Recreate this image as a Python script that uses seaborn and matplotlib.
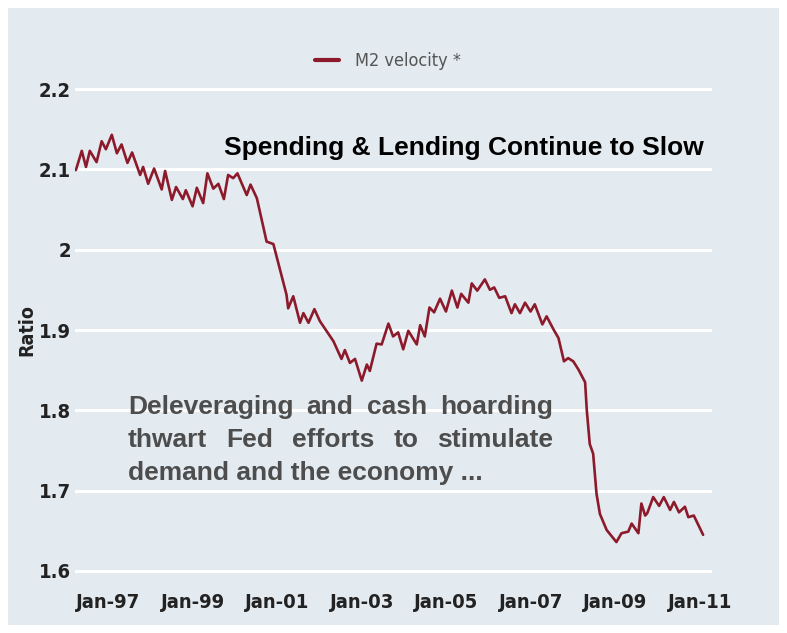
import numpy as np
import pandas as pd
import matplotlib.pyplot as plt
import seaborn as sns
from matplotlib.patches import Rectangle

# M2 velocity (decimal year, ratio)
years = [1996.24, 1996.38, 1996.48, 1996.57, 1996.73, 1996.85, 1996.95, 1997.09,
         1997.21, 1997.32, 1997.46, 1997.57, 1997.76, 1997.83, 1997.95, 1998.09,
         1998.27, 1998.35, 1998.51, 1998.61, 1998.77, 1998.84, 1999.00, 1999.10,
         1999.25, 1999.35, 1999.49, 1999.61, 1999.74, 1999.84, 1999.96, 2000.06,
         2000.28, 2000.37, 2000.52, 2000.75, 2000.91, 2001.22, 2001.26, 2001.38,
         2001.54, 2001.62, 2001.74, 2001.88, 2002.01, 2002.33, 2002.52, 2002.60,
         2002.72, 2002.84, 2003.00, 2003.12, 2003.19, 2003.35, 2003.47, 2003.63,
         2003.74, 2003.86, 2003.98, 2004.10, 2004.30, 2004.38, 2004.49, 2004.60,
         2004.71, 2004.85, 2004.99, 2005.13, 2005.26, 2005.35, 2005.52, 2005.60,
         2005.73, 2005.91, 2006.03, 2006.13, 2006.25, 2006.39, 2006.54, 2006.62,
         2006.74, 2006.86, 2006.99, 2007.09, 2007.27, 2007.37, 2007.53, 2007.65,
         2007.78, 2007.88, 2008.00, 2008.12, 2008.28, 2008.32, 2008.39, 2008.47,
         2008.55, 2008.63, 2008.79, 2009.02, 2009.14, 2009.30, 2009.38, 2009.54,
         2009.61, 2009.70, 2009.75, 2009.89, 2010.03, 2010.14, 2010.29, 2010.38,
         2010.50, 2010.64, 2010.72, 2010.85, 2011.07]
velocity = [2.099, 2.123, 2.103, 2.123, 2.109, 2.135, 2.125, 2.143,
            2.120, 2.131, 2.108, 2.121, 2.093, 2.103, 2.082, 2.101,
            2.075, 2.098, 2.062, 2.078, 2.063, 2.074, 2.054, 2.077,
            2.058, 2.095, 2.076, 2.082, 2.063, 2.093, 2.089, 2.095,
            2.068, 2.081, 2.064, 2.010, 2.007, 1.944, 1.927, 1.942,
            1.909, 1.921, 1.909, 1.926, 1.911, 1.886, 1.864, 1.875,
            1.859, 1.864, 1.837, 1.857, 1.849, 1.883, 1.882, 1.908,
            1.892, 1.897, 1.876, 1.899, 1.882, 1.906, 1.892, 1.928,
            1.922, 1.939, 1.923, 1.949, 1.928, 1.945, 1.934, 1.958,
            1.949, 1.963, 1.950, 1.953, 1.940, 1.942, 1.921, 1.932,
            1.921, 1.934, 1.923, 1.932, 1.907, 1.917, 1.901, 1.890,
            1.861, 1.865, 1.861, 1.851, 1.835, 1.800, 1.758, 1.746,
            1.696, 1.671, 1.651, 1.636, 1.647, 1.649, 1.659, 1.647,
            1.684, 1.669, 1.672, 1.692, 1.681, 1.692, 1.676, 1.686,
            1.673, 1.680, 1.667, 1.669, 1.645]

x_tick_years = [1997, 1999, 2001, 2003, 2005, 2007, 2009, 2011]
x_tick_labels = ['Jan-97', 'Jan-99', 'Jan-01', 'Jan-03', 'Jan-05', 'Jan-07', 'Jan-09', 'Jan-11']
y_ticks = [1.6, 1.7, 1.8, 1.9, 2.0, 2.1, 2.2]
y_tick_labels = ['1.6', '1.7', '1.8', '1.9', '2', '2.1', '2.2']

title_text = 'Spending & Lending Continue to Slow'
note_lines = ['Deleveraging and cash hoarding',
              'thwart Fed efforts to stimulate',
              'demand and the economy ...']

sns.set_style('white')
plt.rcParams['font.family'] = ['DejaVu Sans']
plt.rcParams['font.stretch'] = 'condensed'

W, H = 787, 633
df = pd.DataFrame({'year': years, 'velocity': velocity})

fig = plt.figure(figsize=(W / 100, H / 100), dpi=100, facecolor='white')
fig.patches.append(Rectangle((8 / W, 8 / H), 771 / W, 617 / H, transform=fig.transFigure,
                             facecolor='#e3eaf0', edgecolor='none', zorder=-5))

ax = fig.add_axes([75 / W, (H - 573.4) / H, 637 / W, 486.8 / H])
ax.set_facecolor('none')
ax.set_zorder(1)

sns.lineplot(data=df, x='year', y='velocity', ax=ax, color='#8c1a2b',
             linewidth=1.9, label='M2 velocity *')

ax.set_xlim(1996.22, 2011.28)
ax.set_ylim(1.597, 2.203)
for s in ax.spines.values():
    s.set_visible(False)

ax.set_yticks(y_ticks)
ax.set_yticklabels(y_tick_labels)
ax.set_xticks(x_tick_years)
ax.set_xticklabels(x_tick_labels)
ax.set_xticks(np.arange(1996.5, 2011, 1.0), minor=True)
ax.tick_params(axis='y', length=0, pad=3, labelsize=14.5, labelcolor='#222222')
ax.tick_params(axis='x', which='major', length=0, pad=14, labelsize=14.5, labelcolor='#222222')
ax.tick_params(axis='x', which='minor', length=4.5, width=1.5, color='white', direction='out')
for lab in ax.get_xticklabels() + ax.get_yticklabels():
    lab.set_fontweight('bold')

ax.grid(axis='y', color='white', linewidth=2.2)
ax.grid(axis='x', visible=False)
ax.set_axisbelow(True)

ax.set_xlabel('')
ax.set_ylabel('Ratio', fontsize=14, fontweight='bold', color='#222222')
ax.yaxis.set_label_coords((36 - 75) / 637, 0.5)

leg = ax.legend(loc='center', bbox_to_anchor=(388 / W, 1 - 61 / H), bbox_transform=fig.transFigure,
                frameon=False, fontsize=13, handlelength=1.3, handletextpad=0.9)
for t in leg.get_texts():
    t.set_color('#555555')
for h in leg.get_lines():
    h.set_linewidth(3)

fig.text(224 / W, 1 - 155 / H, title_text, fontsize=19, fontweight='bold', color='black',
         family=['Liberation Sans', 'DejaVu Sans'], stretch='normal',
         ha='left', va='baseline', zorder=3)

# justified grey note
fig.canvas.draw()
renderer = fig.canvas.get_renderer()
note_kw = dict(fontsize=19, fontweight='bold', color='#4d4d4d', stretch='normal',
               family=['Liberation Sans', 'DejaVu Sans'], ha='left', va='baseline', zorder=3)
x0, x1 = 128, 553
baselines = [414, 447, 480]
for i, (line, yb) in enumerate(zip(note_lines, baselines)):
    if i == len(note_lines) - 1:
        fig.text(x0 / W, 1 - yb / H, line, **note_kw)
        continue
    words = line.split()
    arts = [fig.text(0, 0, w, **note_kw) for w in words]
    widths = [a.get_window_extent(renderer).width for a in arts]
    gap = (x1 - x0 - sum(widths)) / (len(words) - 1)
    x = x0
    for a, w in zip(arts, widths):
        a.set_position((x / W, 1 - yb / H))
        x += w + gap

fig.savefig('out.png', dpi=100, facecolor='white')
